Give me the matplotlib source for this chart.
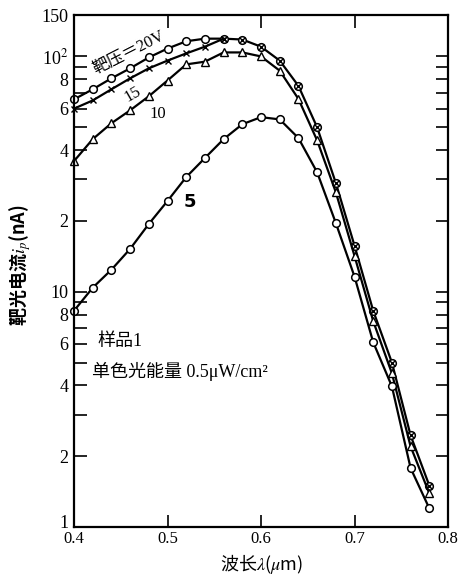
import numpy as np
import matplotlib
matplotlib.use("Agg")
import matplotlib.pyplot as plt
import matplotlib.transforms as mtransforms
from matplotlib.ticker import FixedLocator, FixedFormatter, NullFormatter

plt.rcParams['font.family'] = ['Liberation Serif', 'Noto Sans CJK SC']
plt.rcParams['mathtext.fontset'] = 'stix'

# 波长 (um)
wl = [0.40, 0.42, 0.44, 0.46, 0.48, 0.50, 0.52, 0.54, 0.56, 0.58,
      0.60, 0.62, 0.64, 0.66, 0.68, 0.70, 0.72, 0.74, 0.76, 0.78]

# 靶光电流 (nA)
i_20v = [65.7, 72.5, 80.7, 89, 99, 108, 116, 119, 119, 118,
         110, 96, 75, 50, 29, 15.7, 8.3, 5.0, 2.45, 1.5]
wl_15 = wl[:9]
i_15v = [60, 65, 72.5, 80.7, 89, 96, 103, 110, 119]
wl_15b = wl[8:]
i_15v_b = i_20v[8:]
i_10v = [35.9, 44.5, 52, 59, 67.7, 79, 92.5, 95, 104, 104,
         100, 87, 66, 44, 26.5, 14.2, 7.5, 4.5, 2.2, 1.39]
i_5v = [8.3, 10.4, 12.4, 15.2, 19.4, 24.3, 30.7, 37, 44.5, 51.5,
        55.2, 54, 45, 32.2, 19.6, 11.6, 6.1, 3.96, 1.78, 1.2]

y_major = [1, 2, 4, 6, 8, 10, 20, 40, 60, 80, 100, 150]
y_major_labels = ['1', '2', '4', '6', '8', '10', '2', '4', '6', '8', '10$^2$', '150']
y_minor = [3, 5, 7, 9, 30, 50, 70, 90]
x_ticks = [0.4, 0.5, 0.6, 0.7, 0.8]

fig = plt.figure(figsize=(4.62, 5.76), dpi=100)
ax = fig.add_axes([74/462, 49/576, 374/462, 512/576])

lk = dict(color='black', lw=1.6, clip_on=False)
ax.plot(wl, i_20v, marker='o', ms=5.5, mfc='white', mec='black', mew=1.1, **lk)
ax.plot(wl_15, i_15v, marker='x', ms=4.5, mec='black', mew=1.0, **lk)
ax.plot(wl_15b, i_15v_b, ls='none', marker='x', ms=4, mec='black', mew=1.0, clip_on=False)
ax.plot(wl, i_10v, marker='^', ms=5.5, mfc='white', mec='black', mew=1.0, **lk)
ax.plot(wl, i_5v, marker='o', ms=5.5, mfc='white', mec='black', mew=1.1, **lk)

ax.set_yscale('log')
ax.set_xlim(0.4, 0.8)
ax.set_ylim(1, 150)

ax.yaxis.set_major_locator(FixedLocator(y_major))
ax.yaxis.set_major_formatter(FixedFormatter(y_major_labels))
ax.yaxis.set_minor_locator(FixedLocator(y_minor))
ax.yaxis.set_minor_formatter(NullFormatter())
ax.set_xticks(x_ticks)
ax.set_xticklabels(['0.4', '0.5', '0.6', '0.7', '0.8'])

ax.tick_params(axis='both', which='both', direction='in', top=True, right=True,
               length=9, width=1.2)
ax.tick_params(axis='x', pad=3, labelsize=12)
ax.tick_params(axis='y', pad=4, labelsize=13)
for s in ax.spines.values():
    s.set_linewidth(1.6)

# 底部的 "1" 稍微上移, 避免与 0.4 重叠
lab1 = ax.get_yticklabels()[0]
lab1.set_transform(lab1.get_transform() +
                   mtransforms.ScaledTranslation(0, 5/100, fig.dpi_scale_trans))

# 曲线标注
ax.text(0.458, 104, '靶压＝20V', rotation=27, ha='center', va='center', fontsize=12)
ax.text(0.463, 69, '15', rotation=30, ha='center', va='center', fontsize=12)
ax.text(0.490, 56.8, '10', ha='center', va='center', fontsize=12)
ax.text(0.524, 24.1, '5', ha='center', va='center', fontsize=13,
        fontweight='bold', family=['DejaVu Sans'])
ax.text(0.425, 6.14, '样品1', ha='left', va='center', fontsize=13)
ax.text(0.419, 4.58, '单色光能量 0.5μW/cm²', ha='left', va='center', fontsize=13)

fig.text(20/462, 1-265/576, '靶光电流$i_p$(nA)', rotation=90, ha='center', va='center',
         fontsize=13, fontweight='bold', family=['Noto Sans CJK SC', 'DejaVu Sans'])
fig.text(262/462, 1-564/576, '波长$\\lambda$($\\mu$m)', ha='center', va='center',
         fontsize=13, family=['Noto Sans CJK SC', 'DejaVu Sans'])

fig.savefig('out.png', dpi=100)
